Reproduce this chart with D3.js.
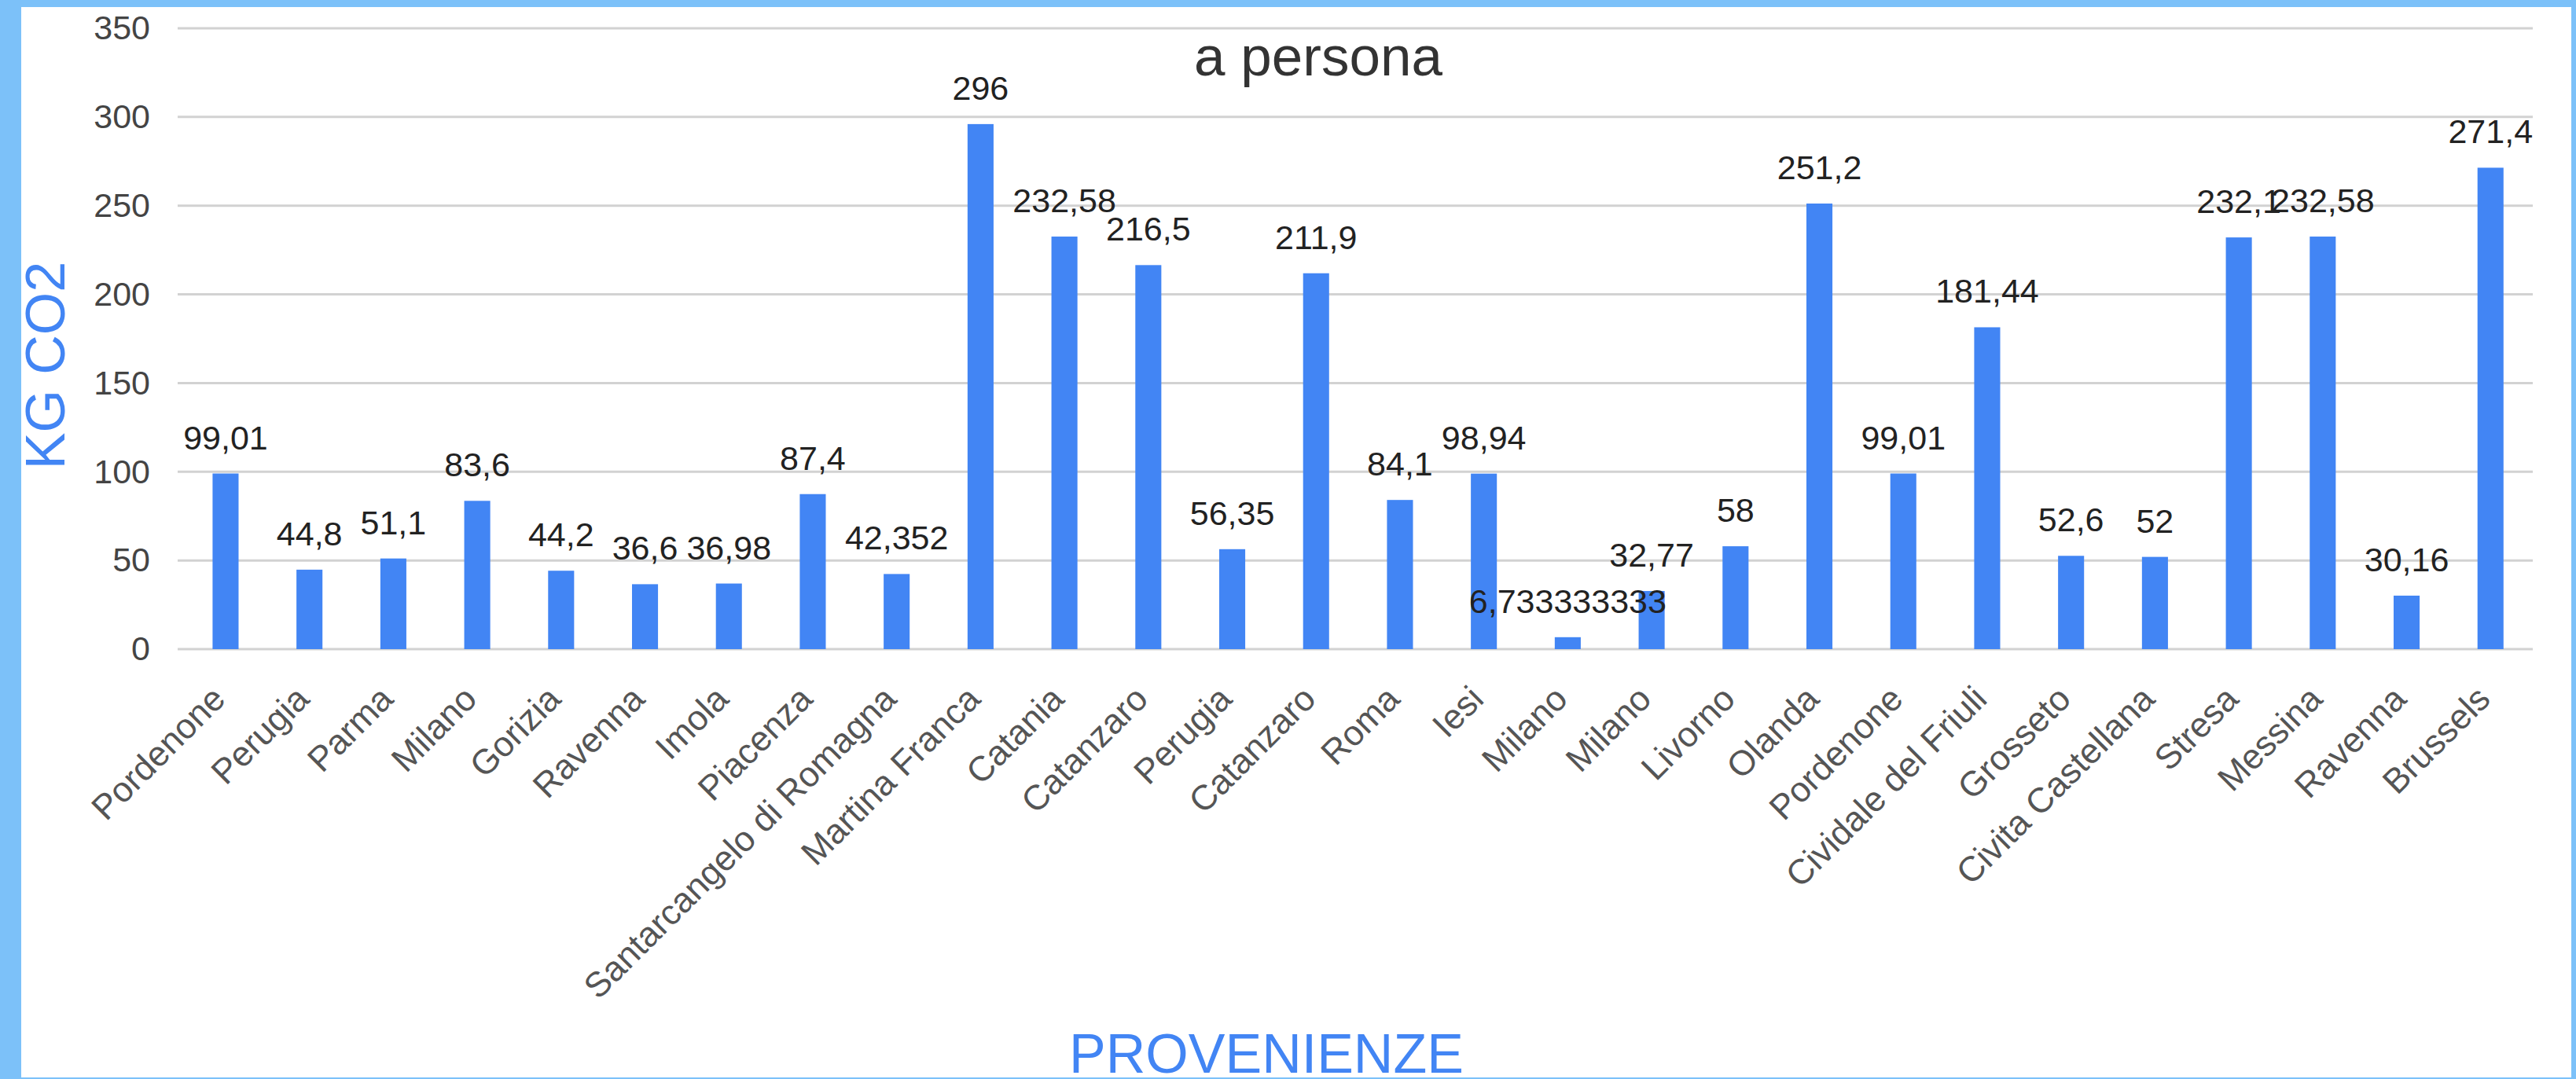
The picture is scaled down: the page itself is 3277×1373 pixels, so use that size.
<!DOCTYPE html>
<html>
<head>
  <title>a persona</title>
  <script src="https://d3js.org/d3.v7.min.js"></script>
  <style>
    * {
        margin: 0;
        box-sizing: border-box;
    }
    body {
      background: #fff;
    }
    svg text {
      font-family: "Liberation Sans", Arial, sans-serif;
    }
    .grid line {
      stroke: #d2d2d2;
      stroke-width: 3px;
    }
    .bar {
      fill: #4285f4;
    }
  </style>
</head>
<body>
  <svg id="chart"></svg>
  <script>
    // dati
    const cities = [
      "Pordenone", "Perugia", "Parma", "Milano", "Gorizia", "Ravenna", "Imola",
      "Piacenza", "Santarcangelo di Romagna", "Martina Franca", "Catania",
      "Catanzaro", "Perugia", "Catanzaro", "Roma", "Iesi", "Milano", "Milano",
      "Livorno", "Olanda", "Pordenone", "Cividale del Friuli", "Grosseto",
      "Civita Castellana", "Stresa", "Messina", "Ravenna", "Brussels"
    ];
    const kgCO2 = [
      99.01, 44.8, 51.1, 83.6, 44.2, 36.6, 36.98,
      87.4, 42.352, 296, 232.58,
      216.5, 56.35, 211.9, 84.1, 98.94, 6.733333333, 32.77,
      58, 251.2, 99.01, 181.44, 52.6,
      52, 232.1, 232.58, 30.16, 271.4
    ];
    const yTicks = [0, 50, 100, 150, 200, 250, 300, 350];

    const width = 3277;
    const height = 1373;

    const svg = d3.select("#chart")
      .attr("width", width)
      .attr("height", height);

    svg.append("rect")
      .attr("width", width)
      .attr("height", height)
      .attr("fill", "#fff");

    const x = d3.scaleBand()
      .domain(d3.range(cities.length))
      .range([233.6, 3221.6])
      .paddingInner(0.69)
      .paddingOuter(0.345);

    const y = d3.scaleLinear()
      .domain([0, 350])
      .range([826, 36]);

    // griglia orizzontale
    svg.append("g")
      .attr("class", "grid")
      .selectAll("line")
      .data(yTicks)
      .enter().append("line")
      .attr("x1", 226)
      .attr("x2", 3222)
      .attr("y1", d => y(d))
      .attr("y2", d => y(d));

    // asse y
    const yAxis = svg.append("g")
      .attr("transform", "translate(191,0)")
      .call(d3.axisLeft(y).tickValues(yTicks).tickSize(0).tickPadding(0));
    yAxis.select(".domain").remove();
    yAxis.selectAll("text")
      .attr("fill", "#444")
      .style("font-size", "43px");

    // barre
    svg.selectAll(".bar")
      .data(kgCO2)
      .enter().append("rect")
      .attr("class", "bar")
      .attr("x", (d, i) => x(i))
      .attr("width", x.bandwidth())
      .attr("y", d => y(d))
      .attr("height", d => y(0) - y(d));

    // etichette valori
    svg.selectAll(".val")
      .data(kgCO2)
      .enter().append("text")
      .attr("class", "val")
      .attr("x", (d, i) => x(i) + x.bandwidth() / 2)
      .attr("y", d => y(d) - 31)
      .attr("text-anchor", "middle")
      .attr("fill", "#222")
      .style("font-size", "43px")
      .text(d => String(d).replace(".", ","));

    // etichette asse x
    svg.selectAll(".cat")
      .data(cities)
      .enter().append("text")
      .attr("class", "cat")
      .attr("transform", (d, i) => `translate(${x(i) + x.bandwidth() / 2 + 2},${y(0) + 66}) rotate(-45)`)
      .attr("text-anchor", "end")
      .attr("fill", "#555")
      .style("font-size", "44.5px")
      .text(d => d);

    // titoli
    svg.append("text")
      .attr("x", 1677)
      .attr("y", 96)
      .attr("text-anchor", "middle")
      .attr("fill", "#333")
      .style("font-size", "71px")
      .text("a persona");

    svg.append("text")
      .attr("transform", "translate(82,465) rotate(-90)")
      .attr("text-anchor", "middle")
      .attr("fill", "#4285f4")
      .style("font-size", "70px")
      .text("KG CO2");

    svg.append("text")
      .attr("x", 1611)
      .attr("y", 1365)
      .attr("text-anchor", "middle")
      .attr("fill", "#4285f4")
      .style("font-size", "70px")
      .text("PROVENIENZE");

    // cornice azzurra
    const frame = "#7cc1f9";
    svg.append("rect").attr("x", 0).attr("y", 0).attr("width", 27).attr("height", height).attr("fill", frame);
    svg.append("rect").attr("x", 0).attr("y", 0).attr("width", width).attr("height", 9).attr("fill", frame);
    svg.append("rect").attr("x", width - 6).attr("y", 0).attr("width", 6).attr("height", height).attr("fill", frame);
    svg.append("rect").attr("x", 0).attr("y", height - 2).attr("width", width).attr("height", 2).attr("fill", frame);
  </script>
</body>
</html>
